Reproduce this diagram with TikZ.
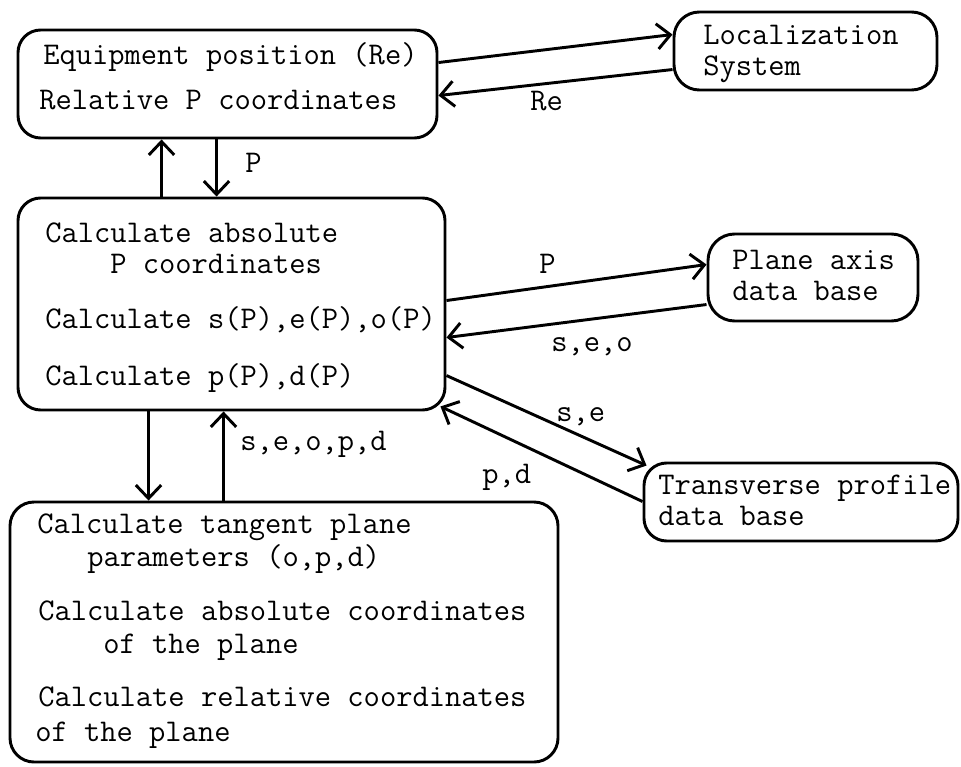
\documentclass[tikz,border=0pt]{standalone}
\usepackage{fontspec}
\usetikzlibrary{arrows.meta,fit,calc}
\begin{document}
\begin{tikzpicture}[x=0.75pt,y=-0.75pt,
  box/.style={draw, line width=2.2pt, rounded corners=17pt, inner sep=0pt},
  txt/.style={anchor=base west, inner sep=0pt, text height=15pt, text depth=4pt,
    font=\ttfamily\fontsize{23.7}{26}\selectfont},
  arr/.style={line width=2.2pt, -{Straight Barb[length=10pt,width=19pt]}}]
\useasboundingbox (0,0) rectangle (961,767);

% boxes
\node[box, fit={(18,30) (437,138)}] (eq) {};
\node[box, rounded corners=19pt, fit={(674,12) (937,90)}] (loc) {};
\node[box, fit={(18,198) (445,410)}] (abs) {};
\node[box, rounded corners=20pt, fit={(708,234) (918,321)}] (plane) {};
\node[box, fit={(644,463) (958,541)}] (trans) {};
\node[box, rounded corners=18pt, fit={(10,502) (558,762)}] (tan) {};

% texts
\node[txt] (eq1) at (43,65) {Equipment position (Re)};
\node[txt] (eq2) at (39,110) {Relative P coordinates};
\node[txt] (loc1) at (703,45) {Localization};
\node[txt] (loc2) at (703,76) {System};
\node[txt] (abs1) at (45,242) {Calculate absolute};
\node[txt] (abs2) at (110,273) {P coordinates};
\node[txt] (abs3) at (45,328) {Calculate s(P),e(P),o(P)};
\node[txt] (abs4) at (45,385) {Calculate p(P),d(P)};
\node[txt] (pl1) at (732,269) {Plane axis};
\node[txt] (pl2) at (732,300) {data base};
\node[txt] (tr1) at (658,494) {Transverse profile};
\node[txt] (tr2) at (658,525) {data base};
\node[txt] (tan1) at (37,533) {Calculate tangent plane};
\node[txt] (tan2) at (87,566) {parameters (o,p,d)};
\node[txt] (tan3) at (38,620) {Calculate absolute coordinates};
\node[txt] (tan4) at (103,653) {of the plane};
\node[txt] (tan5) at (38,706) {Calculate relative coordinates};
\node[txt] (tan6) at (35,741) {of the plane};

% labels
\node[txt] (lP1) at (245,172) {P};
\node[txt] (lRe) at (530,111) {Re};
\node[txt] (lP2) at (539,273) {P};
\node[txt] (lseo) at (551,351) {s,e,o};
\node[txt] (lse) at (556,421) {s,e};
\node[txt] (lpd) at (482,483) {p,d};
\node[txt] (lall) at (240,450) {s,e,o,p,d};

% connectors
\draw[arr] ($(abs.north west)+(145,0)$) -- ($(eq.south west)+(145,0)$);
\draw[arr] ($(eq.south west)+(200,0)$) -- ($(abs.north west)+(200,0)$);
\draw[arr] ($(abs.south west)+(132,0)$) -- ($(tan.north west)+(140,0)$);
\draw[arr] ($(tan.north west)+(215,0)$) -- ($(abs.south west)+(207,0)$);

\draw[arr] ($(eq.north east)+(0,34)$) -- ($(loc.north west)+(0,24)$);
\draw[arr] ($(loc.north west)+(0,59)$) -- ($(eq.north east)+(0,67)$);

\draw[arr] ($(abs.north east)+(0,104)$) -- ($(plane.north west)+(0,32)$);
\draw[arr] ($(plane.north west)+(0,72)$) -- ($(abs.north east)+(0,141)$);

\draw[arr] ($(abs.north east)+(0,179)$) -- ($(trans.north west)+(4,4)$);
\draw[arr] ($(trans.north west)+(0,40)$) -- ($(abs.south east)+(-6,-5)$);
\end{tikzpicture}
\end{document}
